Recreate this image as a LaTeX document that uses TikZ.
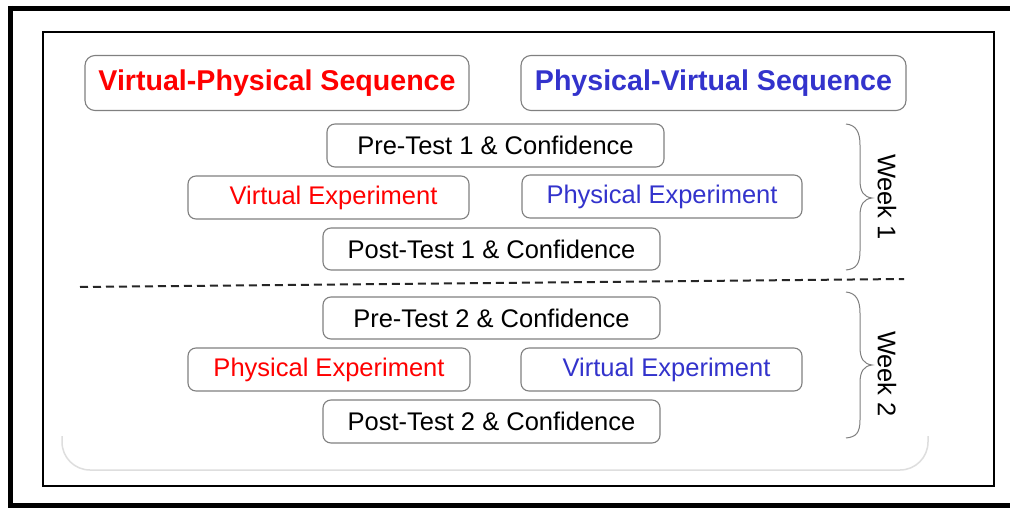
\documentclass[tikz,border=0pt]{standalone}
\usepackage{fontspec}
\setmainfont{Liberation Sans}
\definecolor{vred}{RGB}{255,0,0}
\definecolor{pblue}{RGB}{51,51,204}
\definecolor{boxgrey}{RGB}{128,128,128}
\definecolor{shadegrey}{RGB}{222,222,222}
\begin{document}
\begin{tikzpicture}[x=1pt,y=-1pt,
  titlebox/.style={draw=boxgrey, line width=1.1pt, rounded corners=10pt, inner sep=0pt,
    minimum height=55pt, font=\fontsize{28.6}{32}\selectfont\bfseries},
  stagebox/.style={draw=boxgrey, line width=1.1pt, rounded corners=8pt, inner sep=0pt,
    minimum height=43pt, font=\fontsize{25.5}{30}\selectfont},
  bracestyle/.style={draw=boxgrey, line width=1pt},
  weeklabel/.style={rotate=-90, font=\fontsize{25.5}{30}\selectfont, inner sep=0pt}]
\clip (0,0) rectangle (1010,508);
\fill[white] (0,0) rectangle (1010,508);
% frames
\draw[line width=5pt] (10.5,8.5) -- (1020,8.5);
\draw[line width=5pt] (10.5,6) -- (10.5,505.5) -- (1020,505.5);
\draw[line width=2pt] (43,32) rectangle (994,486);
% faint rounded bottom
\draw[shadegrey, line width=1.5pt] (62,436) -- (62,442) arc[start angle=180, end angle=90, radius=28] -- (900,470)
  arc[start angle=90, end angle=0, radius=28] -- (928,436);
% title boxes
\node[titlebox, text=vred, minimum width=384pt] (vps) at (277,83) {Virtual-Physical Sequence};
\node[titlebox, text=pblue, minimum width=385pt] (pvs) at (713.5,83) {Physical-Virtual Sequence};
% week 1
\node[stagebox, minimum width=337pt] (pre1) at (495.5,145.5) {Pre-Test 1 \& Confidence};
\node[stagebox, text=vred, minimum width=281pt] (ve1) at (328.5,197.5) {\hspace{10pt}Virtual Experiment};
\node[stagebox, text=pblue, minimum width=280pt] (pe1) at (662,196.5) {Physical Experiment};
\node[stagebox, minimum width=337pt, minimum height=42pt] (post1) at (491.5,249) {Post-Test 1 \& Confidence};
% week 2
\node[stagebox, minimum width=337pt, minimum height=42pt] (pre2) at (491.5,318) {Pre-Test 2 \& Confidence\hspace{12pt}};
\node[stagebox, text=vred, minimum width=282pt] (pe2) at (329,369.5) {Physical Experiment};
\node[stagebox, text=pblue, minimum width=281pt] (ve2) at (661.5,369.5) {\hspace{10pt}Virtual Experiment};
\node[stagebox, minimum width=337pt] (post2) at (491.5,421.5) {Post-Test 2 \& Confidence};
% dashed separator
\coordinate (dl) at (80,287);
\coordinate (dr) at (904,279);
\draw[line width=2pt, black!85, dash pattern=on 8pt off 5pt] (dl) -- (dr);
% braces
\draw[bracestyle] (846,124) .. controls (856,125) and (860,132) .. (860,145) -- (860,180)
  .. controls (860,192) and (864,197) .. (872,198)
  .. controls (864,199) and (860,204) .. (860,216) -- (860,251)
  .. controls (860,264) and (856,269) .. (846,270);
\draw[bracestyle] (846,292) .. controls (856,293) and (860,300) .. (860,313) -- (860,347)
  .. controls (860,359) and (864,364) .. (872,365)
  .. controls (864,366) and (860,371) .. (860,383) -- (860,420)
  .. controls (860,433) and (856,437) .. (846,438);
\node[weeklabel] (w1) at (887,197) {Week 1};
\node[weeklabel] (w2) at (887,374) {Week 2};
\end{tikzpicture}
\end{document}
